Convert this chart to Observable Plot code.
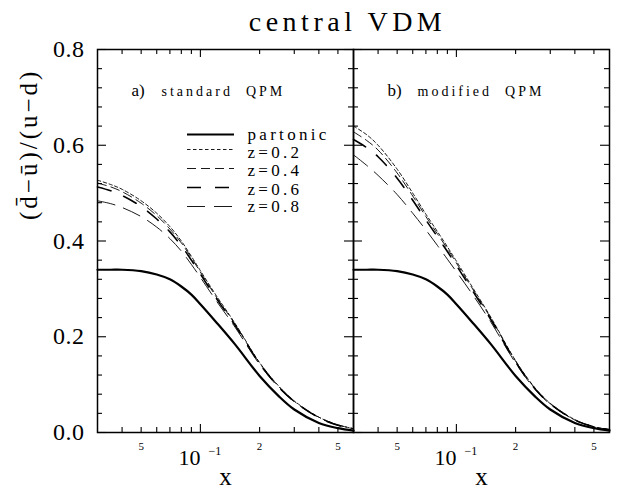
<!DOCTYPE html>
<html><head><meta charset="utf-8">
<script src="https://cdn.jsdelivr.net/npm/d3@7"></script>
<script src="https://cdn.jsdelivr.net/npm/@observablehq/plot@0.6"></script>
<style>
body{margin:0;background:#fff}
#chart{width:626px;height:491px}
g[aria-description="title"] text{letter-spacing:4.5px}
g[aria-description="ylabel"] text{letter-spacing:3px}
g[aria-description="legend"] text{letter-spacing:3.3px}
g[aria-description="panelname"] text{letter-spacing:3px}
g[aria-label="y-axis tick label"] text{letter-spacing:0.5px}
</style>
</head><body><div id="chart"></div>
<script>
// ---- data ----
const xs = [0.03, 0.035, 0.04, 0.05, 0.06, 0.07, 0.08, 0.09, 0.1, 0.12, 0.15, 0.2, 0.25, 0.3, 0.4, 0.5, 0.6];
const partonic = [0.340, 0.340, 0.340, 0.337, 0.330, 0.320, 0.305, 0.288, 0.268, 0.231, 0.184, 0.118, 0.076, 0.048, 0.020, 0.009, 0.004];
// a) standard QPM
const std02 = [0.527, 0.518, 0.508, 0.484, 0.458, 0.430, 0.400, 0.368, 0.338, 0.287, 0.228, 0.146, 0.097, 0.066, 0.032, 0.016, 0.008];
const std04 = [0.521, 0.513, 0.503, 0.479, 0.453, 0.425, 0.396, 0.365, 0.335, 0.284, 0.226, 0.145, 0.096, 0.065, 0.032, 0.016, 0.008];
const std06 = [0.513, 0.505, 0.495, 0.472, 0.446, 0.419, 0.390, 0.360, 0.331, 0.281, 0.224, 0.144, 0.095, 0.065, 0.031, 0.015, 0.008];
const std08 = [0.484, 0.478, 0.470, 0.451, 0.429, 0.405, 0.379, 0.351, 0.324, 0.276, 0.220, 0.142, 0.094, 0.064, 0.031, 0.015, 0.008];
// b) modified QPM
const mod02 = [0.640, 0.622, 0.600, 0.550, 0.500, 0.456, 0.420, 0.388, 0.358, 0.305, 0.240, 0.150, 0.094, 0.061, 0.027, 0.012, 0.006];
const mod04 = [0.628, 0.610, 0.590, 0.542, 0.494, 0.451, 0.415, 0.384, 0.354, 0.302, 0.238, 0.149, 0.093, 0.060, 0.026, 0.012, 0.006];
const mod06 = [0.612, 0.595, 0.576, 0.531, 0.485, 0.444, 0.409, 0.378, 0.349, 0.298, 0.235, 0.147, 0.092, 0.060, 0.026, 0.012, 0.006];
const mod08 = [0.580, 0.558, 0.537, 0.497, 0.458, 0.423, 0.391, 0.362, 0.336, 0.290, 0.230, 0.145, 0.091, 0.059, 0.026, 0.012, 0.006];

const panels = ["a", "b"];
const panelLetters = ["a)", "b)"];
const panelNames = ["standard  QPM", "modified  QPM"];
const seriesNames = ["partonic", "z=0.2", "z=0.4", "z=0.6", "z=0.8"];
const titleText = "central VDM";
const yLabelText = "(d\u0304\u2212u\u0304)/(u\u2212d)";

const yMajorTicks = [0, 0.2, 0.4, 0.6, 0.8];
const yMinorTicks = [0.04, 0.08, 0.12, 0.16, 0.24, 0.28, 0.32, 0.36, 0.44, 0.48, 0.52, 0.56, 0.64, 0.68, 0.72, 0.76];
const xMajorTicks = [0.1];
const xMinorTicks = [0.04, 0.05, 0.06, 0.07, 0.08, 0.09, 0.2, 0.3, 0.4, 0.5];
const xTickValues = [0.05, 0.2, 0.5];
const xTickTexts = ["5", "2", "5"];

// ---- styles ----
const seriesWidth = [2.2, 0.9, 0.9, 1.6, 0.9];
const seriesDash = [null, "3.5,2.5", "9,5", "14,14", "18,9"];
const legendLineDy = [85, 100, 119, 138, 157];
const legendTextDy = [85, 103.5, 121.5, 140, 157.5];
const frameW = 256, frameH = 383;

// ---- table ----
const rows = [];
[[partonic, std02, std04, std06, std08], [partonic, mod02, mod04, mod06, mod08]].forEach((vals, p) =>
  vals.forEach((arr, s) => arr.forEach((v, i) =>
    rows.push({panel: panels[p], series: seriesNames[s], x: xs[i], y: v}))));
const panelRows = panels.map((p, i) => ({panel: p, letter: panelLetters[i], name: panelNames[i]}));
const xLabelRows = xTickValues.map((v, i) => ({x: v, t: xTickTexts[i]}));

const tk = {stroke: "black", strokeWidth: 1.1};

const marks = [
  // inward ticks on all four sides of each panel
  Plot.ruleX(xMinorTicks, {...tk, insetTop: frameH - 5}),
  Plot.ruleX(xMajorTicks, {...tk, insetTop: frameH - 8}),
  Plot.ruleX(xMinorTicks, {...tk, insetBottom: frameH - 5}),
  Plot.ruleX(xMajorTicks, {...tk, insetBottom: frameH - 8}),
  Plot.ruleY(yMinorTicks, {...tk, insetRight: frameW - 5}),
  Plot.ruleY(yMajorTicks, {...tk, insetRight: frameW - 9}),
  Plot.ruleY(yMinorTicks, {...tk, insetLeft: frameW - 5}),
  Plot.ruleY(yMajorTicks, {...tk, insetLeft: frameW - 9}),
  Plot.frame({stroke: "black", strokeWidth: 1.5}),
  Plot.axisY(yMajorTicks, {anchor: "left", tickSize: 0, tickPadding: 13, fontSize: 24, tickFormat: d => d.toFixed(1), label: null}),
  ...seriesNames.map((s, k) => Plot.line(rows.filter(d => d.series === s), {
    x: "x", y: "y", fx: "panel", stroke: "black", strokeWidth: seriesWidth[k],
    strokeDasharray: seriesDash[k], curve: "catmull-rom"
  })),
  // x tick labels
  Plot.text(xLabelRows, {x: "x", text: "t", frameAnchor: "bottom", lineAnchor: "middle", dy: 14, fontSize: 11}),
  Plot.text(xMajorTicks, {x: d => d, text: () => "10", frameAnchor: "bottom", lineAnchor: "middle", dy: 25, dx: -11, fontSize: 22}),
  Plot.text(xMajorTicks, {x: d => d, text: () => "\u22121", frameAnchor: "bottom", lineAnchor: "middle", dy: 19, dx: 8, textAnchor: "start", fontSize: 12}),
  Plot.text([0], {frameAnchor: "bottom", lineAnchor: "middle", text: () => "x", dy: 44, fontSize: 25}),
  // panel labels
  Plot.text(panelRows, {fx: "panel", text: "letter", frameAnchor: "top-left", lineAnchor: "middle", dx: 34, dy: 41, textAnchor: "start", fontSize: 17}),
  Plot.text(panelRows, {fx: "panel", text: "name", frameAnchor: "top-left", lineAnchor: "middle", dx: 64, dy: 42, textAnchor: "start", fontSize: 14, ariaDescription: "panelname"}),
  // title and y label
  Plot.text([{panel: "a"}], {fx: "panel", text: () => titleText, frameAnchor: "top-right", lineAnchor: "middle", textAnchor: "middle", dx: -6, dy: -27, fontSize: 28, ariaDescription: "title"}),
  Plot.text([{panel: "a"}], {fx: "panel", text: () => yLabelText, frameAnchor: "left", lineAnchor: "middle", rotate: -90, dx: -69, dy: -21, fontSize: 25, ariaDescription: "ylabel"}),
  // legend
  ...seriesNames.map((s, k) => Plot.ruleY([{panel: "a", y: 0.8}], {
    fx: "panel", y: "y", dy: legendLineDy[k], insetLeft: 90, insetRight: 119,
    stroke: "black", strokeWidth: seriesWidth[k], strokeDasharray: seriesDash[k]
  })),
  ...seriesNames.map((s, k) => Plot.text([{panel: "a"}], {
    fx: "panel", text: () => s, frameAnchor: "top-left", lineAnchor: "middle", dx: 150, dy: legendTextDy[k],
    textAnchor: "start", fontSize: 17, ariaDescription: "legend"
  }))
];

const chart = Plot.plot({
  width: 626, height: 491,
  marginLeft: 97, marginRight: 17, marginTop: 49, marginBottom: 59,
  fx: {domain: panels, padding: 0, axis: null},
  x: {type: "log", domain: [0.03, 0.6], axis: null},
  y: {domain: [0, 0.8], axis: null},
  style: {fontFamily: "Liberation Serif", background: "white", color: "black", overflow: "visible"},
  marks
});
document.getElementById("chart").appendChild(chart);
</script>
</body></html>
